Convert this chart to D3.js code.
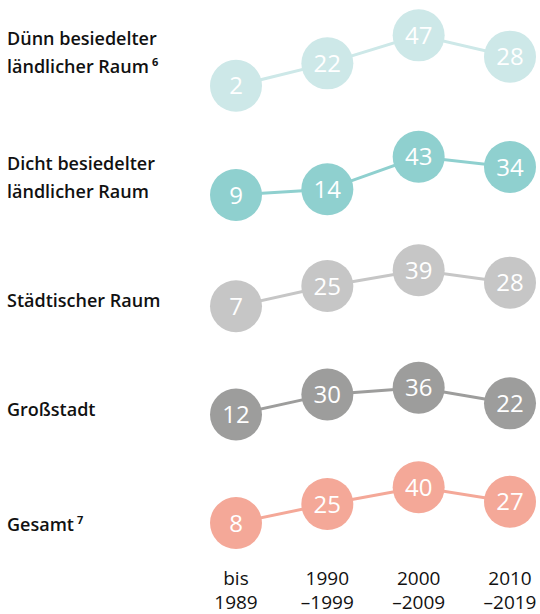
<!DOCTYPE html>
<html lang="de">
<head>
<meta charset="UTF-8">
<title>Zeiträume</title>
<style>
  body { margin: 0; background: #fff; }
  svg text { font-family: "Open Sans", sans-serif; }
</style>
</head>
<body>
<svg id="chart" width="540" height="614"></svg>
<script src="https://d3js.org/d3.v7.min.js"></script>
<script>
// periods on the x axis
var periods = ["bis 1989", "1990–1999", "2000–2009", "2010–2019"];
var periodLines = [["bis", "1989"], ["1990", "–1999"], ["2000", "–2009"], ["2010", "–2019"]];

// row names (label lines + footnote mark)
var rowNames = ["Dünn besiedelter ländlicher Raum", "Dicht besiedelter ländlicher Raum",
                "Städtischer Raum", "Großstadt", "Gesamt"];
var rowLabelLines = [["Dünn besiedelter", "ländlicher Raum"], ["Dicht besiedelter", "ländlicher Raum"],
                     ["Städtischer Raum"], ["Großstadt"], ["Gesamt"]];
var rowFootnotes = ["6", "", "", "", "7"];

// values per row
var duenn  = [2, 22, 47, 28];
var dicht  = [9, 14, 43, 34];
var staedt = [7, 25, 39, 28];
var gross  = [12, 30, 36, 22];
var gesamt = [8, 25, 40, 27];
var series = [duenn, dicht, staedt, gross, gesamt];

var colors = ["#cde8e8", "#8fd0cf", "#c6c6c6", "#9d9d9c", "#f4a898"];

// layout
var rowBase = [88, 205, 314, 428, 532];      // y of value 0 in each row
var labelBase = [45, 170, 307, 416, 531];    // first label baseline
var radius = 26;

var svg = d3.select("#chart");

var x = d3.scalePoint().domain(periods).range([236, 510]);
var y = d3.scaleLinear().domain([0, 50]).range([0, -56]);

series.forEach(function (vals, r) {
  var g = svg.append("g").attr("transform", "translate(0," + rowBase[r] + ")");
  var pts = vals.map(function (v, i) { return { p: periods[i], v: v }; });

  var line = d3.line().x(function (d) { return x(d.p); }).y(function (d) { return y(d.v); });
  g.append("path")
    .datum(pts)
    .attr("d", line)
    .attr("fill", "none")
    .attr("stroke", colors[r])
    .attr("stroke-width", 3);

  g.selectAll("circle")
    .data(pts)
    .join("circle")
    .attr("cx", function (d) { return x(d.p); })
    .attr("cy", function (d) { return y(d.v); })
    .attr("r", radius)
    .attr("fill", colors[r]);

  g.selectAll("text.val")
    .data(pts)
    .join("text")
    .attr("class", "val")
    .attr("x", function (d) { return x(d.p); })
    .attr("y", function (d) { return y(d.v); })
    .attr("dy", "0.36em")
    .attr("text-anchor", "middle")
    .attr("fill", "#fff")
    .style("font-size", "24px")
    .text(function (d) { return d.v; });

  // row label
  var lab = svg.append("text")
    .attr("x", 7)
    .attr("y", labelBase[r])
    .attr("fill", "#111")
    .style("font-size", "18px")
    .style("font-weight", 600);
  var lines = rowLabelLines[r];
  lines.forEach(function (t, i) {
    lab.append("tspan")
      .attr("x", 7)
      .attr("dy", i === 0 ? 0 : 28)
      .text(t);
  });
  if (rowFootnotes[r]) {
    lab.append("tspan")
      .attr("dx", 3)
      .attr("dy", -7)
      .style("font-size", "11px")
      .style("font-weight", 700)
      .text(rowFootnotes[r]);
  }
});

// x axis labels
periodLines.forEach(function (ls, i) {
  var t = svg.append("text")
    .attr("x", x(periods[i]))
    .attr("y", 585)
    .attr("text-anchor", "middle")
    .attr("fill", "#111")
    .style("font-size", "19px");
  ls.forEach(function (s, j) {
    t.append("tspan").attr("x", x(periods[i])).attr("dy", j === 0 ? 0 : 24).text(s);
  });
});
</script>
</body>
</html>
